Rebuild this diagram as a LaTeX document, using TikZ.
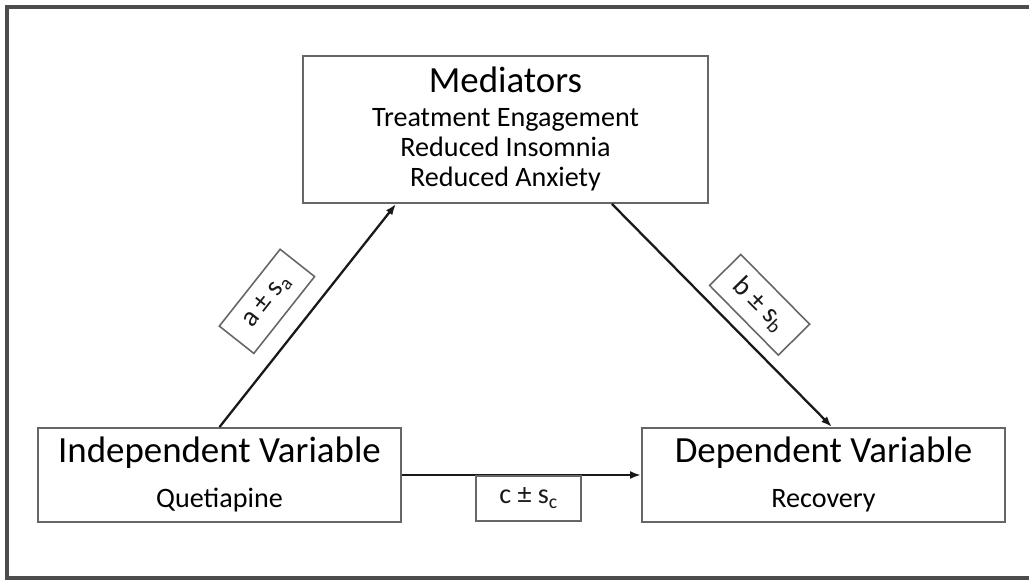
\documentclass[tikz,border=0pt]{standalone}
\usepackage{fontspec}
\setmainfont{Carlito}
\usetikzlibrary{arrows.meta,positioning}

\begin{document}
\begin{tikzpicture}[x=0.02cm,y=-0.02cm,
	box/.style={draw=black!60,line width=1.1pt,minimum width=7.26cm,minimum height=1.88cm,inner sep=0pt},
	labbox/.style={draw=black!60,line width=0.9pt,minimum width=1.96cm,minimum height=0.88cm,inner sep=0pt,font=\fontsize{16}{17}\selectfont},
	link/.style={line width=1.3pt,black!90,-{Latex[length=2.2mm,width=1.6mm]}},
	head/.style={anchor=base,font=\fontsize{21}{24}\selectfont},
	sub/.style={anchor=base,font=\fontsize{16}{18}\selectfont}]
	\useasboundingbox (0,0) rectangle (1029,580);
	\draw[line width=2pt,black!70] (1029,7) -- (7,7) -- (7,578) -- (1029,578);
	\node[box,minimum width=8.1cm,minimum height=2.94cm] (med) at (505.5,129.5) {};
	\node[head] (medt) at (505.5,93) {Mediators};
	\node[sub] (med1) at (505.5,127) {Treatment Engagement};
	\node[sub] (med2) at (505.5,157) {Reduced Insomnia};
	\node[sub] (med3) at (505.5,187) {Reduced Anxiety};
	\node[box] (iv) at (219.5,475) {};
	\node[head] (ivt) at (219.5,463) {Independent Variable};
	\node[sub] (iv1) at (219.5,508) {Quetiapine};
	\node[box] (dv) at (823.5,475) {};
	\node[head] (dvt) at (823.5,463) {Dependent Variable};
	\node[sub] (dv1) at (823.5,508) {Recovery};
	\draw[link] (iv.north) -- node[labbox,sloped,pos=0.45,above=0.36cm] (la) {a ± s\textsubscript{a}} ([xshift=1.88cm]med.south west);
	\draw[link] ([xshift=-1.94cm]med.south east) -- node[labbox,sloped,pos=0.56,above=0.23cm] (lb) {b ± s\textsubscript{b}} ([xshift=0.17cm]dv.north);
	\draw[link] (iv.east) -- node[labbox,pos=0.53,below=0pt,minimum width=2.1cm,minimum height=0.9cm] (lc) {c ± s\textsubscript{c}} (dv.west);
\end{tikzpicture}
\end{document}
